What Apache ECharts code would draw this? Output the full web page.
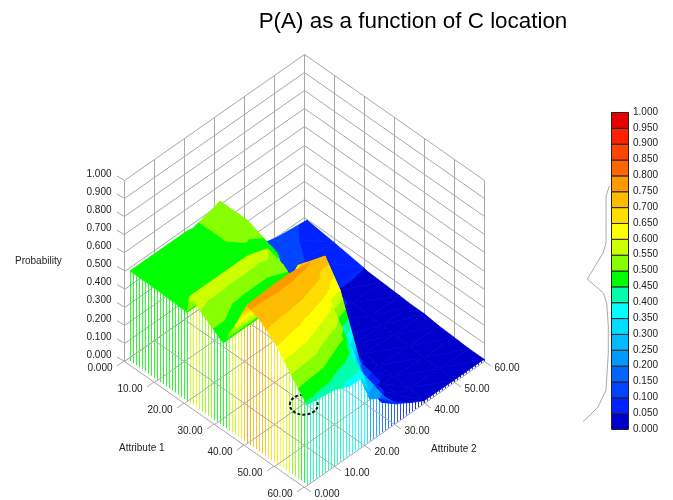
<!DOCTYPE html>
<html>
<head>
<meta charset="utf-8">
<style>html,body{margin:0;padding:0;background:#fff}#c{width:673px;height:500px}</style>
<script src="https://cdn.jsdelivr.net/npm/echarts@6/dist/echarts.min.js"></script>
</head>
<body>
<div id="c"></div>
<script>
// ---- values ----
const attribute1 = [1, 10, 20, 21, 26, 32, 36, 40, 45, 50, 55, 60];
const attribute2 = [1, 10, 15, 20, 22, 27, 31, 36, 40, 50, 60];
const pRow01 = [.498,.498,.498,.498,.49,.515,.535,.17,.16,.115,.094];
const pRow10 = [.497,.497,.497,.497,.49,.515,.535,.16,.13,.10,.075];
const pRow20 = [.49,.49,.49,.49,.49,.475,.47,.15,.10,.06,.05];
const pRow21 = [.59,.59,.59,.59,.58,.55,.42,.13,.09,.05,.045];
const pRow26 = [.53,.50,.49,.49,.49,.52,.33,.10,.06,.045,.04];
const pRow32 = [.46,.46,.46,.47,.49,.44,.25,.08,.045,.04,.035];
const pRow36 = [.60,.58,.60,.65,.69,.50,.25,.07,.04,.035,.03];
const pRow40 = [.76,.77,.77,.76,.75,.73,.25,.06,.04,.03,.03];
const pRow45 = [.72,.71,.70,.68,.67,.60,.20,.045,.035,.025,.02];
const pRow50 = [.65,.63,.60,.57,.53,.25,.07,.04,.03,.02,.015];
const pRow55 = [.54,.53,.49,.45,.36,.17,.05,.035,.025,.015,.01];
const pRow60 = [.44,.42,.38,.375,.23,.18,.10,.05,.012,.01,.01];
const probability = [pRow01,pRow10,pRow20,pRow21,pRow26,pRow32,pRow36,pRow40,pRow45,pRow50,pRow55,pRow60];
const floorTicks = [0,10,20,30,40,50,60];
const floorLabels = ['0.000','10.00','20.00','30.00','40.00','50.00','60.00'];
const heightTicks = [0,.1,.2,.3,.4,.5,.6,.7,.8,.9,1];
const bandColors = ['#0000cc','#0022ff','#0044ff','#0066ff','#0099ff','#00bbff','#00ddff','#00ffff','#00ffaa','#00ff00',
  '#88ff00','#ccff00','#ffff00','#ffdd00','#ffbb00','#ff9900','#ff6600','#ff4400','#ff2200','#e60000'];
const sideCurve = [[.572,.767],[.5,.733],[.5,.587],[.435,.555],[.093,.473],[.441,.429],[.515,.397],[.55,.325],[.55,.24],[.5,.123],[.326,.069],[0,.023]];
const cLocation = [55.5, 3.1, .35];

// ---- projection: a1+a2 is the hidden x axis; height plus slant is the hidden y axis ----
const SLANT = 0.696 / 60;
const FONT = '"Liberation Sans", Arial, sans-serif';
function pt(api, a1, a2, z) { return api.coord([a1 + a2, z + (a2 - a1) * SLANT]); }
function crisp(p) { return [Math.round(p[0]) + .5, Math.round(p[1]) + .5]; }
function bandOf(z) { return Math.max(0, Math.min(19, Math.floor(z / .05))); }

function zAt(a1, a2) {
  function seg(arr, v) { let k = 0; while (k < arr.length - 2 && v > arr[k + 1]) k++; return [k, (v - arr[k]) / (arr[k + 1] - arr[k])]; }
  const [i, s] = seg(attribute1, a1), [j, t] = seg(attribute2, a2);
  const P = probability;
  return (P[i][j] * (1 - t) + P[i][j + 1] * t) * (1 - s) + (P[i + 1][j] * (1 - t) + P[i + 1][j + 1] * t) * s;
}

function clip(poly, level, keepAbove) {
  const out = [];
  for (let n = 0; n < poly.length; n++) {
    const a = poly[n], b = poly[(n + 1) % poly.length];
    const ia = keepAbove ? a[2] >= level : a[2] <= level;
    const ib = keepAbove ? b[2] >= level : b[2] <= level;
    if (ia) out.push(a);
    if (ia !== ib) {
      const t = (level - a[2]) / (b[2] - a[2]);
      out.push([a[0] + (b[0] - a[0]) * t, a[1] + (b[1] - a[1]) * t, level]);
    }
  }
  return out;
}
function bandPolys(api, tri, children) {
  const zs = tri.map(v => v[2]);
  const lo = bandOf(Math.min.apply(null, zs)), hi = bandOf(Math.max.apply(null, zs));
  for (let b = lo; b <= hi; b++) {
    let poly = clip(tri, b * .05, true);
    if (poly.length) poly = clip(poly, (b + 1) * .05, false);
    if (poly.length < 3) continue;
    children.push({
      type: 'polygon',
      shape: { points: poly.map(v => pt(api, v[0], v[1], v[2])) },
      style: { fill: bandColors[b], stroke: bandColors[b], lineWidth: .7 }
    });
  }
}

// ---- cells, far to near ----
const cells = [];
for (let i = 0; i < attribute1.length - 1; i++)
  for (let j = attribute2.length - 2; j >= 0; j--) cells.push([i, j]);

function renderCell(params, api) {
  const i = api.value(0), j = api.value(1);
  const v = (r, c) => [attribute1[r], attribute2[c], probability[r][c]];
  const A = v(i, j + 1), B = v(i, j), C = v(i + 1, j + 1), D = v(i + 1, j);
  const children = [];
  bandPolys(api, [A, B, C], children);
  bandPolys(api, [B, C, D], children);
  return { type: 'group', children };
}

// ---- frame ----
const walls = [], floorLines = [];
floorTicks.forEach(t => {
  floorLines.push([t, 0, 0, t, 60, 0]);
  floorLines.push([0, t, 0, 60, t, 0]);
  walls.push([0, t, 0, 0, t, 1]);
  walls.push([t, 60, 0, t, 60, 1]);
});
heightTicks.forEach(h => {
  walls.push([0, 0, h, 0, 60, h]);
  walls.push([0, 60, h, 60, 60, h]);
});
function renderFrame(params, api) {
  const a = crisp(pt(api, api.value(0), api.value(1), api.value(2)));
  const b = crisp(pt(api, api.value(3), api.value(4), api.value(5)));
  return { type: 'line', shape: { x1: a[0], y1: a[1], x2: b[0], y2: b[1] }, style: { stroke: '#a8a8a8', lineWidth: 1 } };
}

// ---- axis ticks and labels ----
const axisMarks = [];
heightTicks.forEach(h => axisMarks.push([0, 0, h, -7, -4, -12.5, -6, h.toFixed(3), 'right']));
floorTicks.forEach((t, k) => {
  axisMarks.push([t, 0, 0, -7, 5, -24, 7, floorLabels[k], 'center']);
  axisMarks.push([60, t, 0, 7, 5, 23, 7, floorLabels[k], 'center']);
});
function renderMark(params, api) {
  const p = pt(api, api.value(0), api.value(1), api.value(2));
  return { type: 'group', children: [
    { type: 'line', shape: { x1: p[0], y1: p[1], x2: p[0] + api.value(3), y2: p[1] + api.value(4) }, style: { stroke: '#a8a8a8', lineWidth: 1 } },
    { type: 'text', style: { x: p[0] + api.value(5), y: p[1] + api.value(6), text: api.value(7), textAlign: api.value(8), textVerticalAlign: 'middle', fill: '#222', font: '10px ' + FONT } }
  ] };
}

// ---- curtain: every unit step along the two front edges ----
const curtain = [];
for (let a = 1; a <= 60; a++) { curtain.push([a, 1]); }
for (let b = 2; b <= 60; b++) { curtain.push([60, b]); }
function renderCurtain(params, api) {
  const a1 = api.value(0), a2 = api.value(1), z = zAt(a1, a2);
  const top = pt(api, a1, a2, z), bot = pt(api, a1, a2, 0);
  const x = Math.round(top[0]) + .5;
  return { type: 'line', shape: { x1: x, y1: top[1], x2: x, y2: bot[1] }, style: { stroke: bandColors[bandOf(z)], lineWidth: 1, opacity: .85 } };
}

function renderRing(params, api) {
  const p = pt(api, api.value(0), api.value(1), api.value(2));
  return { type: 'ellipse', shape: { cx: p[0] + 4, cy: p[1] - 3, rx: 14, ry: 10 }, style: { fill: 'none', stroke: '#111', lineWidth: 2, lineDash: [3, 2] } };
}

// ---- colour scale ----
const bands = bandColors.map((c, k) => [k]);
function renderBand(params, api) {
  const k = api.value(0);
  const a = api.coord([.609, (k + 1) * .05]), b = api.coord([1, k * .05]);
  return { type: 'rect', shape: { x: a[0] + .5, y: a[1] + .5, width: b[0] - a[0] - 1, height: b[1] - a[1] },
    style: { fill: bandColors[k], stroke: '#222', lineWidth: 1 } };
}

const chart = echarts.init(document.getElementById('c'), null, { renderer: 'canvas' });
const common = { type: 'custom', clip: false, silent: true, xAxisIndex: 0, yAxisIndex: 0 };
chart.setOption({
  animation: false,
  backgroundColor: '#fff',
  title: { text: 'P(A) as a function of C location', left: 408, top: 6, textAlign: 'center',
    textStyle: { fontFamily: FONT, fontSize: 22.4, fontWeight: 'normal', color: '#000' } },
  grid: [
    { left: 124, top: 54, width: 360, height: 433 },
    { left: 583, top: 112, width: 46, height: 317 }
  ],
  xAxis: [
    { type: 'value', gridIndex: 0, min: 0, max: 120, show: false },
    { type: 'value', gridIndex: 1, min: 0, max: 1, show: false }
  ],
  yAxis: [
    { type: 'value', gridIndex: 0, min: -0.696, max: 1.696, show: false },
    { type: 'value', gridIndex: 1, min: 0, max: 1, interval: .05, position: 'right',
      axisLine: { show: false }, axisTick: { show: false }, splitLine: { show: false },
      axisLabel: { margin: 4, color: '#222', fontFamily: FONT, fontSize: 10, formatter: v => v.toFixed(3) } }
  ],
  graphic: [
    { type: 'text', left: 15, top: 256, style: { text: 'Probability', fill: '#222', font: '10px ' + FONT } },
    { type: 'text', left: 119, top: 443, style: { text: 'Attribute 1', fill: '#222', font: '10px ' + FONT } },
    { type: 'text', left: 431, top: 444, style: { text: 'Attribute 2', fill: '#222', font: '10px ' + FONT } }
  ],
  series: [
    Object.assign({}, common, { name: 'walls', data: walls, renderItem: renderFrame, z: 1 }),
    Object.assign({}, common, { name: 'marks', data: axisMarks, renderItem: renderMark, z: 1,
      encode: { x: 0, y: 1 }, dimensions: ['a','b','c','d','e','f','g',{name:'t',type:'ordinal'},{name:'al',type:'ordinal'}] }),
    Object.assign({}, common, { name: 'curtain', data: curtain, renderItem: renderCurtain, z: 2 }),
    Object.assign({}, common, { name: 'floor', data: floorLines, renderItem: renderFrame, z: 3 }),
    Object.assign({}, common, { name: 'ring', data: [cLocation], renderItem: renderRing, z: 3 }),
    Object.assign({}, common, { name: 'surface', data: cells, renderItem: renderCell, z: 4 }),
    { type: 'custom', name: 'scale', clip: false, silent: true, xAxisIndex: 1, yAxisIndex: 1, data: bands, renderItem: renderBand, z: 2 },
    { type: 'line', name: 'curve', xAxisIndex: 1, yAxisIndex: 1, data: sideCurve, showSymbol: false, silent: true, clip: false,
      lineStyle: { color: '#aaa', width: 1 }, z: 1 }
  ]
});
</script>
</body>
</html>
